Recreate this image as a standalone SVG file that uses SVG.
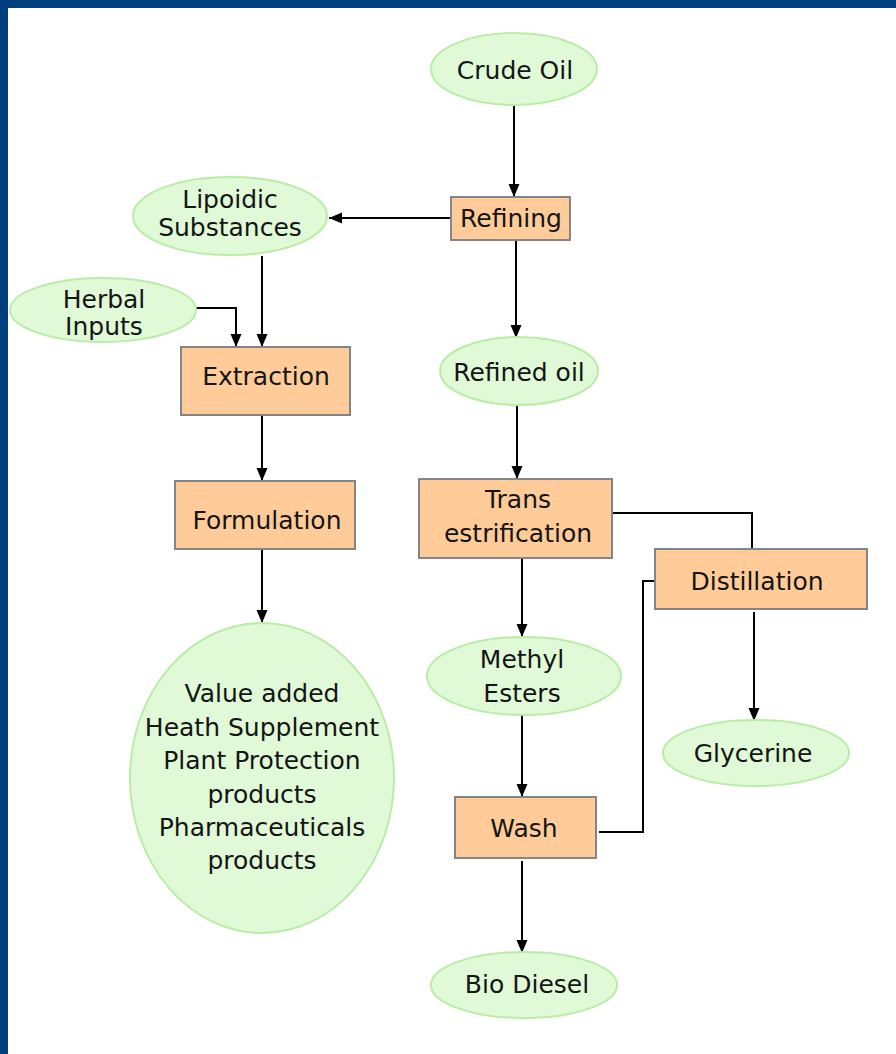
<svg xmlns="http://www.w3.org/2000/svg" width="896" height="1054" viewBox="0 0 896 1054">
<defs>
<marker id="arr" markerUnits="userSpaceOnUse" markerWidth="13" markerHeight="13" viewBox="0 0 13 13" refX="13" refY="6.5" orient="auto">
<path d="M0,1 L13,6.5 L0,12 Z" fill="#000"/>
</marker>
</defs>
<style>
.ell{fill:#E0F9D7;stroke:#B9EDA6;stroke-width:2}
.box{fill:#FFCC99;stroke:#858585;stroke-width:2}
text{font-family:"DejaVu Sans",Verdana,sans-serif;font-size:25px;fill:#151515;text-anchor:middle}
.c{fill:none;stroke:#000;stroke-width:2}
.a{marker-end:url(#arr)}
</style>
<rect x="0" y="0" width="896" height="1054" fill="#fff"/>
<rect x="0" y="0" width="896" height="8" fill="#003F7D"/>
<rect x="0" y="0" width="8" height="1054" fill="#003F7D"/>
<g id="connectors">
<line class="c a" x1="514" y1="105" x2="514" y2="197"/>
<line class="c a" x1="451" y1="218" x2="329" y2="218"/>
<line class="c a" x1="516" y1="240" x2="516" y2="338"/>
<line class="c a" x1="262" y1="256" x2="262" y2="347"/>
<polyline class="c a" points="196,308 236,308 236,347"/>
<line class="c a" x1="262" y1="415" x2="262" y2="481"/>
<line class="c a" x1="262" y1="549" x2="262" y2="623"/>
<line class="c a" x1="517" y1="405" x2="517" y2="479"/>
<line class="c a" x1="522" y1="558" x2="522" y2="637"/>
<polyline class="c" points="612,513 752,513 752,549"/>
<line class="c a" x1="754" y1="612" x2="754" y2="721"/>
<line class="c a" x1="522" y1="715" x2="522" y2="797"/>
<polyline class="c" points="599,832 643,832 643,581 655,581"/>
<line class="c a" x1="522" y1="861" x2="522" y2="953"/>
</g>
<g id="crude-oil"><ellipse class="ell" cx="514" cy="69" rx="83" ry="36"/><text x="515" y="79">Crude Oil</text></g>
<g id="refining"><rect class="box" x="451" y="197" width="119" height="43"/><text x="511" y="227">Refining</text></g>
<g id="lipoidic"><ellipse class="ell" cx="230" cy="216" rx="97" ry="39"/><text x="230" y="208">Lipoidic</text><text x="230" y="236">Substances</text></g>
<g id="herbal"><ellipse class="ell" cx="103" cy="310" rx="93" ry="32"/><text x="104" y="308">Herbal</text><text x="104" y="335">Inputs</text></g>
<g id="extraction"><rect class="box" x="181" y="347" width="169" height="68"/><text x="266" y="385">Extraction</text></g>
<g id="formulation"><rect class="box" x="175" y="481" width="180" height="68"/><text x="267" y="529">Formulation</text></g>
<g id="value-added"><ellipse class="ell" cx="262" cy="778" rx="132" ry="155"/>
<text x="262" y="702">Value added</text><text x="262" y="736">Heath Supplement</text><text x="262" y="769">Plant Protection</text><text x="262" y="803">products</text><text x="262" y="836">Pharmaceuticals</text><text x="262" y="869">products</text></g>
<g id="refined-oil"><ellipse class="ell" cx="519" cy="371" rx="79" ry="34"/><text x="519" y="381">Refined oil</text></g>
<g id="trans"><rect class="box" x="419" y="479" width="193" height="79"/><text x="518" y="508">Trans</text><text x="518" y="542">estrification</text></g>
<g id="distillation"><rect class="box" x="655" y="549" width="212" height="60"/><text x="757" y="590">Distillation</text></g>
<g id="glycerine"><ellipse class="ell" cx="756" cy="753" rx="93" ry="33"/><text x="753" y="762">Glycerine</text></g>
<g id="methyl"><ellipse class="ell" cx="524" cy="676" rx="97" ry="39"/><text x="522" y="668">Methyl</text><text x="522" y="702">Esters</text></g>
<g id="wash"><rect class="box" x="455" y="797" width="141" height="61"/><text x="524" y="837">Wash</text></g>
<g id="bio-diesel"><ellipse class="ell" cx="524" cy="985" rx="93" ry="33"/><text x="527" y="993">Bio Diesel</text></g>
</svg>
